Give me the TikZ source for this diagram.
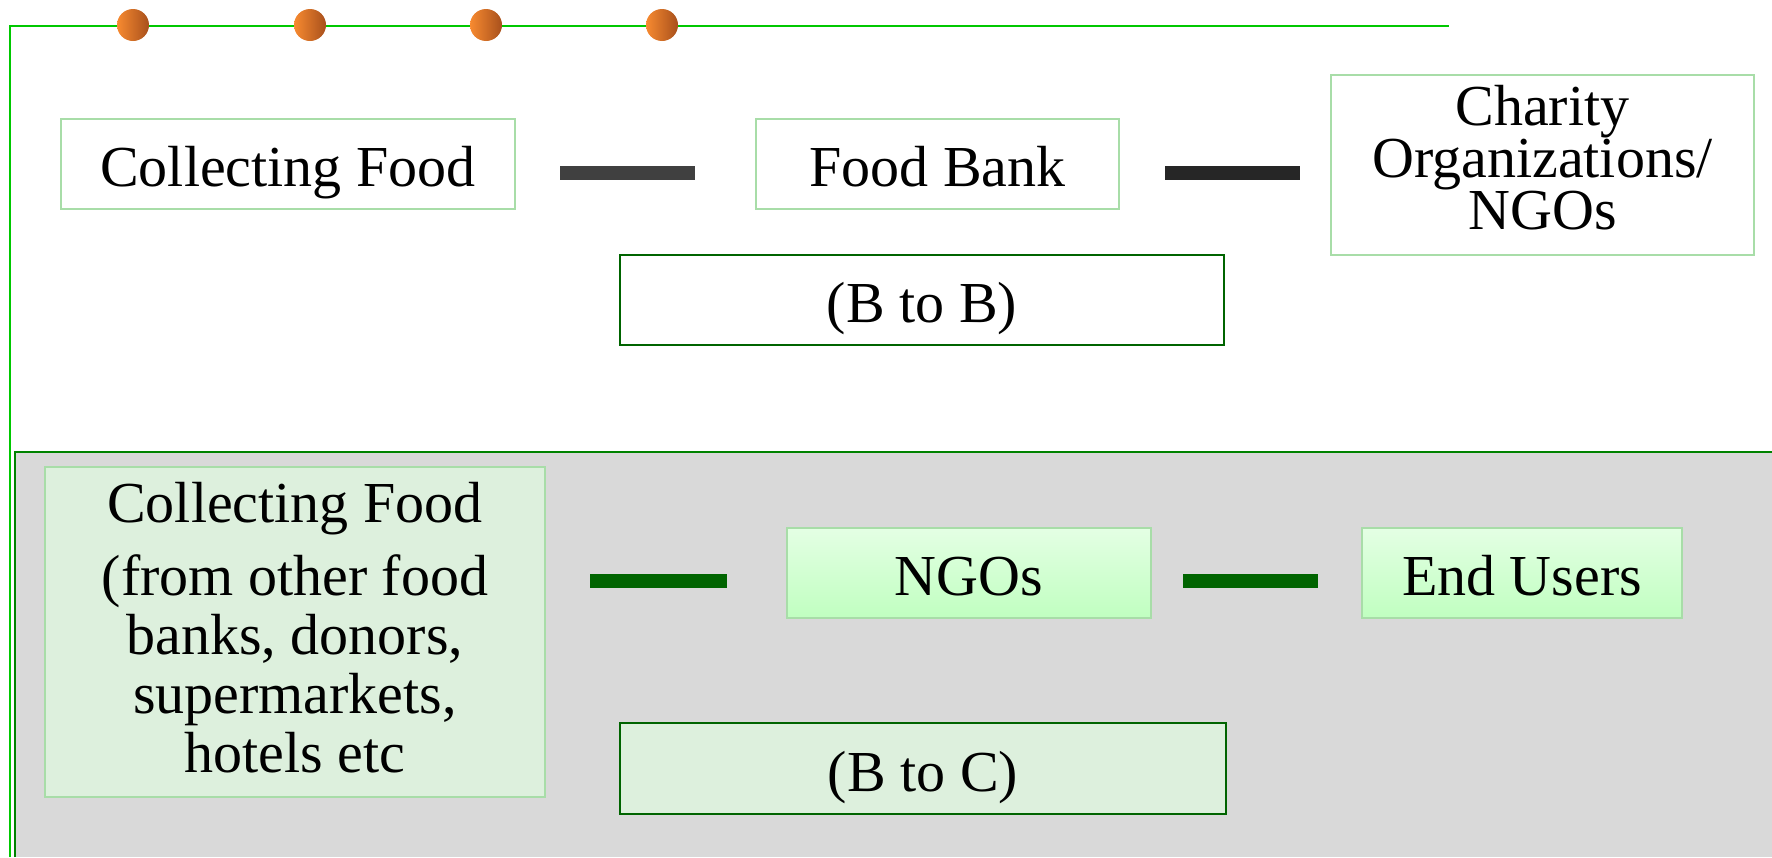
\documentclass[tikz,border=0pt]{standalone}
\usepackage{fontspec}
\setmainfont{Liberation Serif}
\definecolor{lgreen}{HTML}{A8DDA8}
\definecolor{dgreen}{HTML}{006400}
\definecolor{frameg}{HTML}{00C800}
\definecolor{grayg}{HTML}{D9D9D9}
\definecolor{paleg}{HTML}{DDF0DD}
\definecolor{ngtop}{HTML}{E4FFE4}
\definecolor{ngbot}{HTML}{C0FFC0}
\definecolor{dotl}{HTML}{F78A30}
\definecolor{dotr}{HTML}{A8501C}
\definecolor{barone}{HTML}{404040}
\definecolor{bartwo}{HTML}{262626}
\begin{document}
\begin{tikzpicture}[x=1pt,y=-1pt,
  txt/.style={inner sep=0pt, align=center, font=\fontsize{58}{52}\selectfont},
  one/.style={text height=45pt, text depth=0pt},
  lbox/.style={txt, draw=lgreen, line width=2pt, fill=white},
  dbox/.style={txt, draw=dgreen, line width=2pt, fill=white},
  gbox/.style={txt, draw=lgreen, line width=2pt, fill=paleg},
  shbox/.style={txt, draw=lgreen, line width=2pt, top color=ngtop, bottom color=ngbot},
  bar/.style={line width=14pt},
  dot/.style={circle, minimum size=32pt, inner sep=0pt, left color=dotl, right color=dotr}]
\useasboundingbox (0,0) rectangle (1772,857);
% outer frame
\draw[frameg, line width=2pt] (10,857) -- (10,26) -- (1449,26);
\foreach \i/\x in {1/133,2/310,3/486,4/662}
  \node[dot] (dot\i) at (\x,25) {};
% lower gray panel
\fill[grayg] (14.7,452) rectangle (1772,857);
\draw[dgreen!80!green, line width=2pt] (14.7,857) -- (14.7,452) -- (1772,452);
% top row
\node[lbox, one, minimum width=454pt, minimum height=90pt] (cf1) at (288,164) {Collecting Food};
\node[lbox, one, minimum width=363pt, minimum height=90pt] (fb) at (937.5,164) {Food Bank};
\node[lbox, text depth=14pt, minimum width=423pt, minimum height=180pt] (ch) at (1542.5,164.5) {Charity\\Organizations/\\NGOs};
\node[dbox, one, minimum width=604pt, minimum height=90pt] (btb) at (922,300) {(B to B)};
\coordinate (c1a) at (560,172.5);
\coordinate (c1b) at (695,172.5);
\coordinate (c2a) at (1165,173);
\coordinate (c2b) at (1300,173);
\draw[bar, barone] (c1a) -- (c1b);
\draw[bar, bartwo] (c2a) -- (c2b);
% bottom row
\node[gbox, text depth=9pt, minimum width=500pt, minimum height=330pt, font=\fontsize{58}{59}\selectfont] (cf2) at (295,632)
  {Collecting Food\\[14pt](from other food\\banks, donors,\\supermarkets,\\hotels etc};
\node[shbox, one, minimum width=364pt, minimum height=90pt] (ngo) at (969,573) {NGOs};
\node[shbox, one, minimum width=320pt, minimum height=90pt] (eu) at (1522,573) {End Users};
\node[gbox, one, draw=dgreen, minimum width=606pt, minimum height=91pt] (btc) at (923,768.5) {(B to C)};
\coordinate (c3a) at (590,581);
\coordinate (c3b) at (727,581);
\coordinate (c4a) at (1183,581);
\coordinate (c4b) at (1318,581);
\draw[bar, dgreen] (c3a) -- (c3b);
\draw[bar, dgreen] (c4a) -- (c4b);
\end{tikzpicture}
\end{document}
